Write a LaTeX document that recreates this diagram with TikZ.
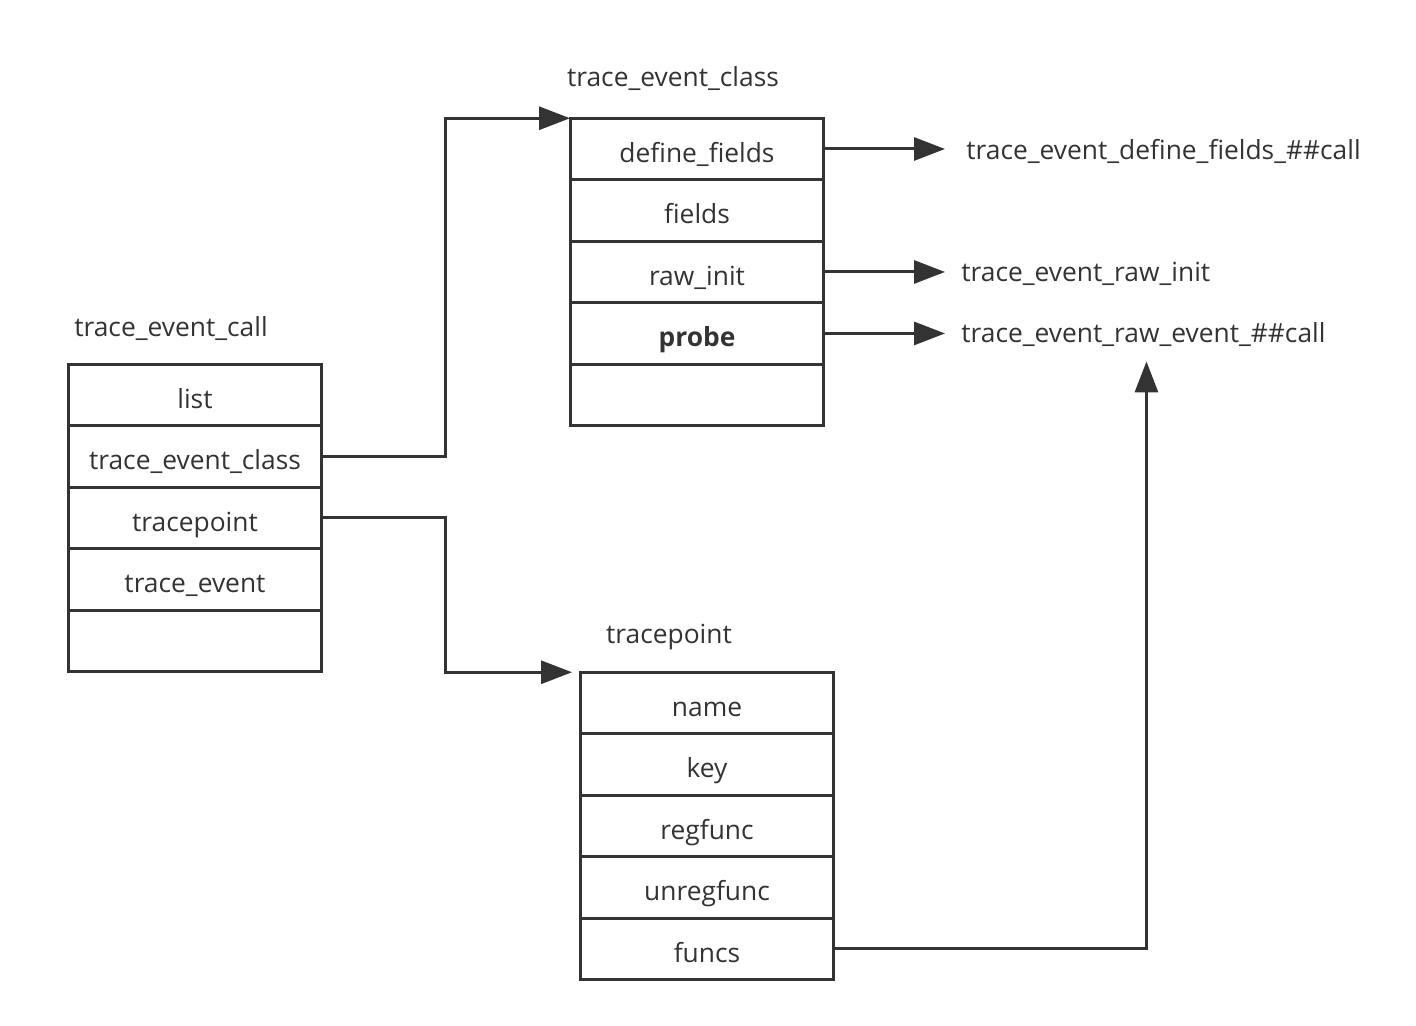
\documentclass[tikz,border=0pt]{standalone}
\usepackage{fontspec}
\setmainfont{Open Sans}
\usetikzlibrary{positioning,arrows.meta}
\definecolor{ink}{HTML}{333333}

\begin{document}
\begin{tikzpicture}[x=0.02cm, y=-0.02cm,
    field/.style={draw=ink, line width=0.06cm, minimum width=5.08cm, minimum height=1.23cm,
                  outer sep=0pt, inner sep=0pt, text height=15pt, text depth=0pt,
                  text=ink, font=\fontsize{15}{17}\selectfont},
    title/.style={text=ink, font=\fontsize{15}{17}\selectfont},
    link/.style={draw=ink, line width=0.06cm, -{Triangle[length=0.62cm,width=0.46cm]}}]

    % page frame, in pixels of the reference
    \useasboundingbox (0,0) rectangle (1416,1026);

    % struct trace_event_call
    \node[title] (call-title) at (171,329) {trace\_event\_call};
    \node[field] (call-list) at (195,395) {list};
    \node[field, below=0pt of call-list] (call-class) {trace\_event\_class};
    \node[field, below=0pt of call-class] (call-tp) {tracepoint};
    \node[field, below=0pt of call-tp] (call-event) {trace\_event};
    \node[field, below=0pt of call-event] (call-rest) {};

    % struct trace_event_class
    \node[title] (cls-title) at (673,79) {trace\_event\_class};
    \node[field] (cls-define) at (697,149) {define\_fields};
    \node[field, below=0pt of cls-define] (cls-fields) {fields};
    \node[field, below=0pt of cls-fields] (cls-init) {raw\_init};
    \node[field, below=0pt of cls-init] (cls-probe) {\bfseries probe};
    \node[field, below=0pt of cls-probe] (cls-rest) {};

    % struct tracepoint
    \node[title] (tp-title) at (669,637) {tracepoint};
    \node[field] (tp-name) at (707,703) {name};
    \node[field, below=0pt of tp-name] (tp-key) {key};
    \node[field, below=0pt of tp-key] (tp-reg) {regfunc};
    \node[field, below=0pt of tp-reg] (tp-unreg) {unregfunc};
    \node[field, below=0pt of tp-unreg] (tp-funcs) {funcs};

    % functions the class points to
    \node[title, anchor=west, inner sep=0pt] (fn-define) at (966,151) {trace\_event\_define\_fields\_\#\#call};
    \node[title, anchor=west, inner sep=0pt] (fn-init) at (961,274) {trace\_event\_raw\_init};
    \node[title, anchor=west, inner sep=0pt] (fn-event) at (961,335) {trace\_event\_raw\_event\_\#\#call};

    % pointers between the structs
    \draw[link] (call-class.east) -- ++(124,0) |- (cls-define.north west);
    \draw[link, shorten >=0.16cm] (call-tp.east) -- ++(124,0) |- (tp-name.north west);

    % pointers to the functions
    \draw[link, shorten >=0.42cm] (cls-define.east) -- (cls-define.east -| fn-define.west);
    \draw[link, shorten >=0.32cm] (cls-init.east) -- (cls-init.east -| fn-init.west);
    \draw[link, shorten >=0.32cm] (cls-probe.east) -- (cls-probe.east -| fn-init.west);
    \draw[link, shorten >=0.28cm] (tp-funcs.east) -| ([xshift=0.06cm]fn-event.south);

\end{tikzpicture}
\end{document}
